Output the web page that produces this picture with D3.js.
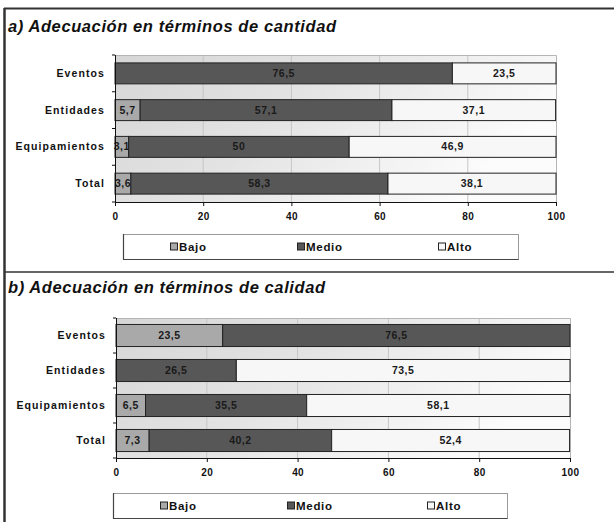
<!DOCTYPE html>
<html><head><meta charset="utf-8">
<script src="https://cdn.jsdelivr.net/npm/d3@7"></script>
<style>
body{margin:0;background:#fff;}
svg{display:block;font-family:"Liberation Sans",Arial,sans-serif;}
</style></head>
<body><svg id="c" width="614" height="522"></svg>
<script>
const categories = ["Eventos", "Entidades", "Equipamientos", "Total"];
const seriesNames = ["Bajo", "Medio", "Alto"];
const seriesColors = ["#a9a9a9", "#575757", "#f7f7f7"];
const cantidadBajo  = [0, 5.7, 3.1, 3.6];
const cantidadMedio = [76.5, 57.1, 50, 58.3];
const cantidadAlto  = [23.5, 37.1, 46.9, 38.1];
const calidadBajo   = [23.5, 0, 6.5, 7.3];
const calidadMedio  = [76.5, 26.5, 35.5, 40.2];
const calidadAlto   = [0, 73.5, 58.1, 52.4];
const xTicks = [0, 20, 40, 60, 80, 100];
const titleA = "a) Adecuación en términos de cantidad";
const titleB = "b) Adecuación en términos de calidad";

const svg = d3.select("#c");
svg.append("rect").attr("width",614).attr("height",522).attr("fill","#fff");

const defs = svg.append("defs");
const grad = defs.append("linearGradient").attr("id","bg")
  .attr("x1","0").attr("y1","0").attr("x2","1").attr("y2","0.35");
grad.append("stop").attr("offset","0").attr("stop-color","#d6d6d6");
grad.append("stop").attr("offset","0.45").attr("stop-color","#e3e3e3");
grad.append("stop").attr("offset","1").attr("stop-color","#fcfcfc");

// outer frame
svg.append("line").attr("x1",4).attr("x2",614).attr("y1",8.5).attr("y2",8.5).attr("stroke","#333").attr("stroke-width",2);
svg.append("line").attr("x1",4.5).attr("x2",4.5).attr("y1",8).attr("y2",522).attr("stroke","#333").attr("stroke-width",2.5);
svg.append("line").attr("x1",4).attr("x2",614).attr("y1",272).attr("y2",272).attr("stroke","#333").attr("stroke-width",1.5);

const fmt = v => String(v).replace(".", ",");

function drawPanel(p) {
  const g = svg.append("g");
  // title
  g.append("text").attr("x",8).attr("y",p.titleY)
    .attr("font-size",16.5).attr("font-weight","bold").attr("font-style","italic")
    .attr("fill","#111").attr("textLength",p.titleW).attr("lengthAdjust","spacing")
    .text(p.title);

  const x = d3.scaleLinear().domain([0,100]).range([p.x0,p.x1]);
  const y = d3.scaleBand().domain(categories).range([p.y0,p.y1])
    .paddingInner(p.pad).paddingOuter(p.pad/2);
  const step = y.step();

  // background
  g.append("rect").attr("x",p.x0).attr("y",p.y0).attr("width",p.x1-p.x0).attr("height",p.y1-p.y0)
    .attr("fill","url(#bg)");
  // gridlines
  g.selectAll(".grid").data(xTicks.filter(t=>t>0 && t<100)).join("line")
    .attr("x1",d=>x(d)).attr("x2",d=>x(d)).attr("y1",p.y0).attr("y2",p.y1)
    .attr("stroke","#c6c6c6").attr("stroke-width",1);
  // plot border top/right
  g.append("path").attr("d",`M${p.x0},${p.y0+0.5}H${p.x1+0.5}V${p.y1}`)
    .attr("fill","none").attr("stroke","#b5b5b5");

  // stacked bars
  const rows = categories.map((c,i)=>({cat:c, vals:[p.bajo[i],p.medio[i],p.alto[i]]}));
  rows.forEach(r=>{
    let acc = 0;
    r.vals.forEach((v,k)=>{
      if (v > 0) {
        const xa = x(acc), xb = x(Math.min(acc+v,100));
        g.append("rect").attr("x",xa).attr("y",y(r.cat)).attr("width",xb-xa).attr("height",y.bandwidth())
          .attr("fill",seriesColors[k]).attr("stroke","#222").attr("stroke-width",1);
        g.append("text").attr("x",(xa+xb)/2).attr("y",y(r.cat)+y.bandwidth()/2+3.6)
          .attr("text-anchor","middle").attr("font-size",10.5).attr("font-weight","bold")
          .attr("letter-spacing",0.5).attr("fill","#1a1a1a").text(fmt(v));
      }
      acc += v;
    });
  });

  // x axis
  const xa = g.append("g").attr("transform",`translate(0,${p.y1})`)
    .call(d3.axisBottom(x).tickValues(xTicks).tickSize(4).tickPadding(7).tickFormat(d=>d));
  xa.select(".domain").attr("stroke","#111").attr("d",`M${p.x0},0.5H${p.x1}`);
  xa.selectAll(".tick line").attr("stroke","#111");
  xa.selectAll("text").attr("font-size",10).attr("font-weight","bold").attr("fill","#111")
    .attr("font-family","Liberation Sans, Arial, sans-serif").attr("letter-spacing",0.4);

  // y axis
  const ya = g.append("g").attr("transform",`translate(${p.x0},0)`)
    .call(d3.axisLeft(y).tickSize(0).tickPadding(10));
  ya.select(".domain").attr("stroke","#111").attr("d",`M0.5,${p.y0}V${p.y1}`);
  ya.selectAll("text").attr("font-size",10.5).attr("font-weight","bold").attr("fill","#111")
    .attr("font-family","Liberation Sans, Arial, sans-serif").attr("letter-spacing",1.1);
  const bounds = categories.map(c=>y(c)-step*p.pad/2).concat([p.y1]);
  g.selectAll(".ytick").data(bounds).join("line")
    .attr("x1",p.x0-3).attr("x2",p.x0).attr("y1",d=>d).attr("y2",d=>d)
    .attr("stroke","#111");

  // legend
  const lg = g.append("g");
  lg.append("rect").attr("x",p.lx0+0.5).attr("y",p.ly0+0.5).attr("width",p.lx1-p.lx0).attr("height",p.ly1-p.ly0)
    .attr("fill","#fff").attr("stroke","#9a9a9a");
  lg.append("path").attr("d",`M${p.lx0+0.5},${p.ly0}V${p.ly1+0.5}H${p.lx1+0.5}`)
    .attr("fill","none").attr("stroke","#444").attr("stroke-width",1.2);
  const cy = (p.ly0+p.ly1)/2;
  seriesNames.forEach((s,k)=>{
    lg.append("rect").attr("x",p.legX[k]+0.5).attr("y",cy-3.5).attr("width",7).attr("height",7)
      .attr("fill",seriesColors[k]).attr("stroke","#222");
    lg.append("text").attr("x",p.legX[k]+9).attr("y",cy+4.2).attr("font-size",11.5)
      .attr("font-weight","bold").attr("letter-spacing",0.7).attr("fill","#111").text(s);
  });
}

drawPanel({title:titleA, titleY:32, titleW:328,
  x0:115, x1:556, y0:55, y1:202, pad:0.43,
  bajo:cantidadBajo, medio:cantidadMedio, alto:cantidadAlto,
  lx0:123, lx1:518, ly0:234, ly1:259, legX:[170,297,438]});
drawPanel({title:titleB, titleY:293, titleW:317,
  x0:116, x1:570, y0:318, y1:458, pad:0.37,
  bajo:calidadBajo, medio:calidadMedio, alto:calidadAlto,
  lx0:113, lx1:507, ly0:493, ly1:518, legX:[160,287,427]});
</script></body></html>
